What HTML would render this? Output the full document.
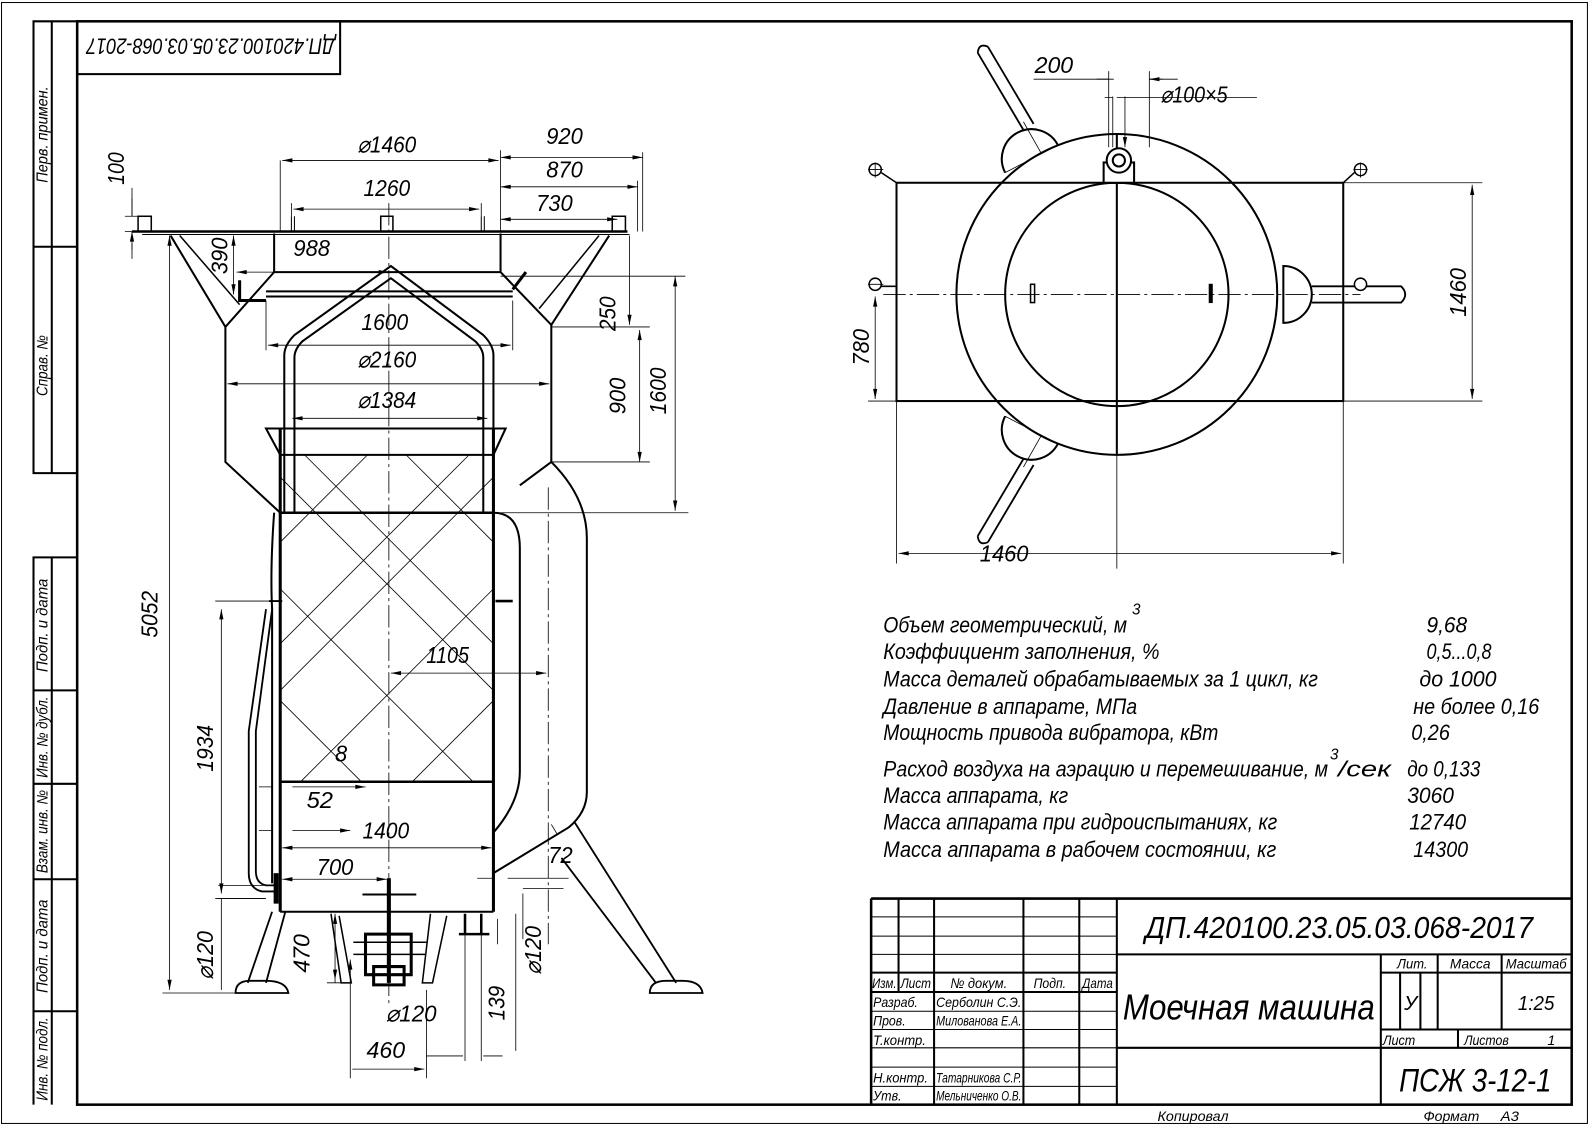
<!DOCTYPE html>
<html><head><meta charset="utf-8"><style>
html,body{margin:0;padding:0;background:#fff;}
svg{display:block;}
text{font-family:"Liberation Sans",sans-serif;font-style:italic;fill:#000;}
</style></head><body>
<svg width="1592" height="1127" viewBox="0 0 1568 1110" preserveAspectRatio="none" xmlns="http://www.w3.org/2000/svg">
<defs>
<marker id="a" viewBox="0 0 12 6" refX="12" refY="3" markerWidth="12" markerHeight="5" orient="auto-start-reverse" markerUnits="userSpaceOnUse"><path d="M0,0.5 L12,3 L0,5.5z" fill="#000"/></marker>
</defs>
<rect x="0" y="0" width="1568" height="1110" fill="#fff"/>
<rect x="1.5" y="2.5" width="1562" height="1104" fill="none" stroke="#000" stroke-width="1"/>
<rect x="76" y="21" width="1472" height="1067" fill="none" stroke="#000" stroke-width="2.5"/>
<g stroke="#000" stroke-width="2" fill="none">
<path d="M76,21 H33 V466 H76 M51,21 V466 M33,243 H76"/>
<path d="M76,549 H33 V1088 M51,549 V1088 M33,680 H76 M33,772 H76 M33,866 H76 M33,996 H76"/>
<rect x="76" y="21" width="259" height="52"/>
</g>
<g font-size="15">
<text transform="translate(47,180) rotate(-90)" textLength="95" lengthAdjust="spacingAndGlyphs">Перв. примен.</text>
<text transform="translate(47,390) rotate(-90)" textLength="60" lengthAdjust="spacingAndGlyphs">Справ. №</text>
<text transform="translate(47,662) rotate(-90)" textLength="92" lengthAdjust="spacingAndGlyphs">Подп. и дата</text>
<text transform="translate(47,766) rotate(-90)" textLength="80" lengthAdjust="spacingAndGlyphs">Инв. № дубл.</text>
<text transform="translate(47,860) rotate(-90)" textLength="82" lengthAdjust="spacingAndGlyphs">Взам. инв. №</text>
<text transform="translate(47,978) rotate(-90)" textLength="92" lengthAdjust="spacingAndGlyphs">Подп. и дата</text>
<text transform="translate(47,1084) rotate(-90)" textLength="82" lengthAdjust="spacingAndGlyphs">Инв. № подл.</text>
</g>
<text transform="translate(330,38) rotate(180)" font-size="22" textLength="245" lengthAdjust="spacingAndGlyphs">ДП.420100.23.05.03.068-2017</text>

<!-- LEFT VIEW -->
<g stroke="#000" fill="none">
<path d="M130,228 H618" stroke-width="2.5"/>
<path d="M140,231 H620" stroke-width="1"/>
<rect x="136" y="213" width="13" height="15" stroke-width="1.5"/>
<rect x="375" y="213" width="12" height="15" stroke-width="1.5"/>
<rect x="603" y="213" width="13" height="15" stroke-width="1.5"/>
<path d="M287,213 V228 M290,213 V228 M474,213 V228 M477,213 V228" stroke-width="1"/>
<path d="M168,232 L222,322 L270,268 H493 L543,320 L600,232" stroke-width="2"/>
<path d="M177,232 L236,300 M590,232 L531,304" stroke-width="1.5"/>
<path d="M270,268 V230 M493,268 V230" stroke-width="2"/>
<path d="M222,322 V455 L276,505 M543,320 V455 L512,478" stroke-width="2"/>
<path d="M262,287 H505 M262,292 H505" stroke-width="2"/>
<path d="M236,276 V296 H262 M505,285 L518,268" stroke-width="3"/>
<path d="M280,505 V350 Q280,340 290,330 L385,262 L476,330 Q486,340 486,350 V505" stroke-width="2"/>
<path d="M290,505 V352 Q290,344 298,336 L385,274 L468,336 Q476,344 476,352 V505" stroke-width="2"/>
<path d="M262,422 H498 L486,448 H276 Z" stroke-width="2"/>
<path d="M276,422 V898 M486,422 V898" stroke-width="3"/>
<path d="M276,505 H486 M276,770 H486" stroke-width="2.5"/>
<path d="M276,898 H486" stroke-width="2"/>
<g stroke-width="0.8">
<path d="M276,470 L486,680 M276,580 L466,770 M276,690 L356,770 M300,448 L486,634 M400,448 L486,534 M486,470 L276,680 M486,580 L296,770 M486,690 L406,770 M462,448 L276,634 M362,448 L276,534"/>
</g>
<path d="M270,505 Q266,560 268,600 V870 M276,770 V890" stroke-width="2"/>
<path d="M265,592 H278 M262,600 L245,720 V860 Q245,875 258,878 H270 M268,600 L252,720 V858 Q252,870 262,872 H270" stroke-width="1.8"/>
<path d="M272,860 V890" stroke-width="5"/>
<path d="M486,505 Q512,505 512,540 V760 Q512,790 486,820" stroke-width="2"/>
<path d="M543,455 Q578,490 578,530 V780 Q578,800 560,815 L486,860" stroke-width="2"/>
<path d="M488,592 H505 M486,865 V890" stroke-width="2.5"/>
<path d="M268,898 L244,968 M281,898 L262,968" stroke-width="1.8"/>
<path d="M232,978 H284 Q282,966 262,966 H246 Q232,966 232,978 Z" stroke-width="1.8"/>
<path d="M566,810 L666,968 M553,845 L646,968" stroke-width="1.8"/>
<path d="M640,978 H692 Q690,966 672,966 H656 Q640,966 640,978 Z" stroke-width="1.8"/>
<path d="M326,900 L336,968 H346 L334,902 M424,900 L416,968 H426 L440,902" stroke-width="1.5"/>
<path d="M383,865 V968" stroke-width="4"/>
<path d="M357,881 H410" stroke-width="2"/>
<path d="M360,920 H405 V960 H360 Z M368,952 H398 V970 H368 Z" stroke-width="3"/>
<path d="M348,928 H420 M348,940 H420" stroke-width="1.5"/>
<path d="M458,900 V920 H474 V900 M452,920 H482" stroke-width="2.5"/>
</g>
<g stroke="#000" stroke-width="0.8" stroke-dasharray="22,4,3,4" fill="none">
<path d="M383,200 V990"/>
<path d="M540,480 V930"/>
</g>
<g stroke="#000" stroke-width="0.8" fill="none">
<path d="M276,158 V228 M493,148 V228 M633,150 V228 M628,178 V228 M287,200 V213 M474,200 V213"/>
<path d="M278,158 H491" marker-start="url(#a)" marker-end="url(#a)"/>
<path d="M493,155 H633" marker-start="url(#a)" marker-end="url(#a)"/>
<path d="M493,184 H628" marker-start="url(#a)" marker-end="url(#a)"/>
<path d="M493,216 H608" marker-start="url(#a)" marker-end="url(#a)"/>
<path d="M289,206 H472" marker-start="url(#a)" marker-end="url(#a)"/>
<path d="M130,185 V213 M130,240 V255 M123,213 H136 M123,228 H136" />
<path d="M130,195 V213 M130,246 V228" marker-end="url(#a)"/>
<path d="M233,268 H383" marker-start="url(#a)" marker-end="url(#a)"/>
<path d="M230,232 V290" marker-start="url(#a)" marker-end="url(#a)"/>
<path d="M167,232 V975" marker-start="url(#a)" marker-end="url(#a)"/>
<path d="M160,978 H232"/>
<path d="M262,296 V345 M505,296 V345"/>
<path d="M264,340 H503" marker-start="url(#a)" marker-end="url(#a)"/>
<path d="M224,378 H541" marker-start="url(#a)" marker-end="url(#a)"/>
<path d="M288,412 H480" marker-start="url(#a)" marker-end="url(#a)"/>
<path d="M493,272 H675 M543,322 H640 M543,455 H640 M486,505 H678"/>
<path d="M620,232 V320" marker-end="url(#a)"/>
<path d="M630,325 V455" marker-start="url(#a)" marker-end="url(#a)"/>
<path d="M665,272 V503" marker-start="url(#a)" marker-end="url(#a)"/>
<path d="M218,600 V880" marker-start="url(#a)" marker-end="url(#a)"/>
<path d="M212,592 H265 M212,885 H262"/>
<path d="M385,663 H538" marker-start="url(#a)" marker-end="url(#a)"/>
<path d="M255,775 H268 M288,775 H360" marker-end="url(#a)"/>
<path d="M255,818 H268 M288,818 H345" marker-end="url(#a)"/>
<path d="M278,835 H484" marker-start="url(#a)" marker-end="url(#a)"/>
<path d="M278,866 H381" marker-start="url(#a)" marker-end="url(#a)"/>
<path d="M470,865 H486 M500,865 H560 M515,875 H555 M543,812 L549,822"/>
<path d="M218,885 V975 M215,885 H260 M215,872 H260"/>
<path d="M330,900 V968 M322,968 H345 M330,902 V965" marker-start="url(#a)" marker-end="url(#a)"/>
<path d="M345,945 V1062 M420,975 V1062 M347,1053 H418" marker-start="url(#a)" marker-end="url(#a)"/>
<path d="M458,920 V1045 M474,920 V1045 M420,1040 H456 M476,1040 H495 M508,900 V1035 M490,905 V930 M515,880 V925"/>
</g>
<g font-size="23">
<text x="352" y="150" textLength="58" lengthAdjust="spacingAndGlyphs">⌀1460</text>
<text x="538" y="142" textLength="36" lengthAdjust="spacingAndGlyphs">920</text>
<text x="538" y="175" textLength="36" lengthAdjust="spacingAndGlyphs">870</text>
<text x="528" y="208" textLength="36" lengthAdjust="spacingAndGlyphs">730</text>
<text x="358" y="193" textLength="46" lengthAdjust="spacingAndGlyphs">1260</text>
<text x="289" y="252" textLength="36" lengthAdjust="spacingAndGlyphs">988</text>
<text x="356" y="325" textLength="46" lengthAdjust="spacingAndGlyphs">1600</text>
<text x="352" y="362" textLength="58" lengthAdjust="spacingAndGlyphs">⌀2160</text>
<text x="352" y="402" textLength="58" lengthAdjust="spacingAndGlyphs">⌀1384</text>
<text x="420" y="653" textLength="42" lengthAdjust="spacingAndGlyphs">1105</text>
<text x="330" y="750" textLength="12" lengthAdjust="spacingAndGlyphs">8</text>
<text x="302" y="796" textLength="26" lengthAdjust="spacingAndGlyphs">52</text>
<text x="357" y="826" textLength="46" lengthAdjust="spacingAndGlyphs">1400</text>
<text x="312" y="862" textLength="36" lengthAdjust="spacingAndGlyphs">700</text>
<text x="540" y="850" textLength="24" lengthAdjust="spacingAndGlyphs">72</text>
<text x="380" y="1006" textLength="50" lengthAdjust="spacingAndGlyphs">⌀120</text>
<text x="361" y="1042" textLength="38" lengthAdjust="spacingAndGlyphs">460</text>
<text transform="translate(122,182) rotate(-90)" textLength="32" lengthAdjust="spacingAndGlyphs">100</text>
<text transform="translate(224,270) rotate(-90)" textLength="36" lengthAdjust="spacingAndGlyphs">390</text>
<text transform="translate(606,326) rotate(-90)" textLength="34" lengthAdjust="spacingAndGlyphs">250</text>
<text transform="translate(616,408) rotate(-90)" textLength="36" lengthAdjust="spacingAndGlyphs">900</text>
<text transform="translate(656,408) rotate(-90)" textLength="46" lengthAdjust="spacingAndGlyphs">1600</text>
<text transform="translate(155,628) rotate(-90)" textLength="46" lengthAdjust="spacingAndGlyphs">5052</text>
<text transform="translate(210,760) rotate(-90)" textLength="46" lengthAdjust="spacingAndGlyphs">1934</text>
<text transform="translate(210,965) rotate(-90)" textLength="48" lengthAdjust="spacingAndGlyphs">⌀120</text>
<text transform="translate(305,958) rotate(-90)" textLength="38" lengthAdjust="spacingAndGlyphs">470</text>
<text transform="translate(533,960) rotate(-90)" textLength="48" lengthAdjust="spacingAndGlyphs">⌀120</text>
<text transform="translate(497,1005) rotate(-90)" textLength="34" lengthAdjust="spacingAndGlyphs">139</text>
</g>

<!-- TOP VIEW -->
<g stroke="#000" fill="none" stroke-width="2">
<rect x="883" y="180" width="440" height="215"/>
<circle cx="1100" cy="290" r="158"/>
<circle cx="1100" cy="290" r="110"/>
<path d="M1100,132 V448"/>
<rect x="1087" y="160" width="30" height="20" fill="#fff"/>
<circle cx="1102" cy="158" r="12" fill="#fff"/>
<circle cx="1102" cy="158" r="6"/>
<path d="M1042,143 A28,28 0 0 0 990,170" stroke-width="2"/>
<path d="M1008,128 L963,52 M1018,122 L973,46 M963,52 Q964,42 973,46" stroke-width="1.8"/>
<path d="M1042,437 A28,28 0 0 1 990,410" stroke-width="2"/>
<path d="M1008,452 L963,528 M1018,458 L973,534 M963,528 Q964,538 973,534" stroke-width="1.8"/>
<path d="M1264,262 A28,28 0 0 1 1264,318 Z" stroke-width="2"/>
<path d="M1292,282 H1380 Q1388,290 1380,298 H1292" stroke-width="1.8"/>
<rect x="1015" y="280" width="4" height="18" stroke-width="1.5"/>
<rect x="1191" y="280" width="3" height="18" fill="#000" stroke-width="1"/>
</g>
<g stroke="#000" stroke-width="0.8" fill="none">
<path d="M990,170 L1042,143 M990,410 L1042,437 M1025,150 L1008,120 M1025,430 L1008,460"/>
</g>
<g stroke="#000" fill="#fff" stroke-width="1.5">
<circle cx="862" cy="167" r="6"/><circle cx="862" cy="280" r="6"/>
<circle cx="1340" cy="167" r="6"/><circle cx="1340" cy="280" r="6"/>
<path d="M868,170 L883,180 M1334,170 L1323,180 M868,282 H883" fill="none"/>
</g>
<g stroke="#000" stroke-width="0.8" fill="none">
<path d="M870,290 H1340" stroke-dasharray="22,4,3,4"/>
<path d="M855,167 H870 M862,160 V175 M855,280 H870 M1333,167 H1347 M1340,160 V175"/>
<path d="M1323,180 H1460 M1323,395 H1460 M855,395 H883 M883,395 V555 M1323,395 V555 M1100,448 V560"/>
<path d="M1450,182 V393" marker-start="url(#a)" marker-end="url(#a)"/>
<path d="M862,292 V393" marker-start="url(#a)" marker-end="url(#a)"/>
<path d="M885,545 H1321" marker-start="url(#a)" marker-end="url(#a)"/>
<path d="M1018,78 H1097 M1132,78 H1160 M1092,70 V145 M1132,70 V145" />
<path d="M1080,78 H1092 M1145,78 H1132" marker-end="url(#a)"/>
<path d="M1088,96 H1096 M1108,96 H1100 M1108,96 H1238 M1096,95 V145 M1108,95 V145" marker-end="url(#a)"/>
</g>
<g font-size="23">
<text x="1019" y="72" textLength="38" lengthAdjust="spacingAndGlyphs">200</text>
<text x="1143" y="101" textLength="66" lengthAdjust="spacingAndGlyphs">⌀100×5</text>
<text x="965" y="553" textLength="48" lengthAdjust="spacingAndGlyphs">1460</text>
<text transform="translate(1444,312) rotate(-90)" textLength="48" lengthAdjust="spacingAndGlyphs">1460</text>
<text transform="translate(856,360) rotate(-90)" textLength="36" lengthAdjust="spacingAndGlyphs">780</text>
</g>

<!-- SPEC TEXT -->
<g font-size="22">
<text x="870" y="623" textLength="240" lengthAdjust="spacingAndGlyphs">Объем геометрический, м</text>
<text x="1115" y="605" font-size="15">3</text>
<text x="870" y="649" textLength="272" lengthAdjust="spacingAndGlyphs">Коэффициент заполнения, %</text>
<text x="870" y="676" textLength="428" lengthAdjust="spacingAndGlyphs">Масса деталей обрабатываемых за 1 цикл, кг</text>
<text x="870" y="703" textLength="250" lengthAdjust="spacingAndGlyphs">Давление в аппарате, МПа</text>
<text x="870" y="729" textLength="330" lengthAdjust="spacingAndGlyphs">Мощность привода вибратора, кВт</text>
<text x="870" y="765" textLength="438" lengthAdjust="spacingAndGlyphs">Расход воздуха на аэрацию и перемешивание, м</text>
<text x="1310" y="748" font-size="15">3</text>
<text x="1318" y="765" textLength="52" lengthAdjust="spacingAndGlyphs">/сек</text>
<text x="870" y="791" textLength="182" lengthAdjust="spacingAndGlyphs">Масса аппарата, кг</text>
<text x="870" y="817" textLength="388" lengthAdjust="spacingAndGlyphs">Масса аппарата при гидроиспытаниях, кг</text>
<text x="870" y="844" textLength="387" lengthAdjust="spacingAndGlyphs">Масса аппарата в рабочем состоянии, кг</text>
<text x="1405" y="623" textLength="40" lengthAdjust="spacingAndGlyphs">9,68</text>
<text x="1405" y="649" textLength="64" lengthAdjust="spacingAndGlyphs">0,5...0,8</text>
<text x="1398" y="676" textLength="76" lengthAdjust="spacingAndGlyphs">до 1000</text>
<text x="1392" y="703" textLength="124" lengthAdjust="spacingAndGlyphs">не более 0,16</text>
<text x="1390" y="729" textLength="38" lengthAdjust="spacingAndGlyphs">0,26</text>
<text x="1386" y="765" textLength="72" lengthAdjust="spacingAndGlyphs">до 0,133</text>
<text x="1386" y="791" textLength="46" lengthAdjust="spacingAndGlyphs">3060</text>
<text x="1388" y="817" textLength="56" lengthAdjust="spacingAndGlyphs">12740</text>
<text x="1392" y="844" textLength="54" lengthAdjust="spacingAndGlyphs">14300</text>
</g>

<!-- TITLE BLOCK -->
<g stroke="#000" fill="none">
<path d="M858,885 H1548 M858,885 V1088" stroke-width="2.5"/>
<path d="M920,885 V1088 M1008,885 V1088 M1063,885 V1088 M1100,885 V1088" stroke-width="2"/>
<path d="M885,885 V977" stroke-width="2"/>
<path d="M858,903 H1100 M858,922 H1100 M858,940 H1100 M858,996 H1100 M858,1014 H1100 M858,1032 H1100 M858,1051 H1100 M858,1070 H1100" stroke-width="1"/>
<path d="M858,958 H1100 M858,977 H1100" stroke-width="2"/>
<path d="M1100,940 H1548 M1100,1032 H1548 M1360,958 H1548 M1360,1014 H1548" stroke-width="2"/>
<path d="M1360,940 V1088 M1379,958 V1014 M1399,958 V1014 M1416,940 V1014 M1479,940 V1014 M1436,1014 V1032" stroke-width="2"/>
</g>
<g font-size="14">
<text x="859" y="973" textLength="24" lengthAdjust="spacingAndGlyphs">Изм.</text>
<text x="887" y="973" textLength="30" lengthAdjust="spacingAndGlyphs">Лист</text>
<text x="936" y="973" textLength="56" lengthAdjust="spacingAndGlyphs">№ докум.</text>
<text x="1018" y="973" textLength="32" lengthAdjust="spacingAndGlyphs">Подп.</text>
<text x="1066" y="973" textLength="30" lengthAdjust="spacingAndGlyphs">Дата</text>
<text x="860" y="992" textLength="44" lengthAdjust="spacingAndGlyphs">Разраб.</text>
<text x="922" y="992" textLength="84" lengthAdjust="spacingAndGlyphs">Серболин С.Э.</text>
<text x="860" y="1010" textLength="32" lengthAdjust="spacingAndGlyphs">Пров.</text>
<text x="922" y="1010" textLength="84" lengthAdjust="spacingAndGlyphs">Милованова Е.А.</text>
<text x="860" y="1029" textLength="52" lengthAdjust="spacingAndGlyphs">Т.контр.</text>
<text x="860" y="1066" textLength="54" lengthAdjust="spacingAndGlyphs">Н.контр.</text>
<text x="922" y="1066" textLength="84" lengthAdjust="spacingAndGlyphs">Татарникова С.Р.</text>
<text x="860" y="1084" textLength="28" lengthAdjust="spacingAndGlyphs">Утв.</text>
<text x="922" y="1084" textLength="84" lengthAdjust="spacingAndGlyphs">Мельниченко О.В.</text>
<text x="1376" y="954" textLength="30" lengthAdjust="spacingAndGlyphs">Лит.</text>
<text x="1428" y="954" textLength="40" lengthAdjust="spacingAndGlyphs">Масса</text>
<text x="1483" y="954" textLength="60" lengthAdjust="spacingAndGlyphs">Масштаб</text>
<text x="1362" y="1029" textLength="32" lengthAdjust="spacingAndGlyphs">Лист</text>
<text x="1442" y="1029" textLength="44" lengthAdjust="spacingAndGlyphs">Листов</text>
<text x="1524" y="1029">1</text>
<text x="1140" y="1104" textLength="70" lengthAdjust="spacingAndGlyphs">Копировал</text>
<text x="1402" y="1104" textLength="55" lengthAdjust="spacingAndGlyphs">Формат</text>
<text x="1478" y="1104" textLength="18" lengthAdjust="spacingAndGlyphs">А3</text>
</g>
<text x="1128" y="924" font-size="30" textLength="382" lengthAdjust="spacingAndGlyphs">ДП.420100.23.05.03.068-2017</text>
<text x="1106" y="1004" font-size="36" textLength="248" lengthAdjust="spacingAndGlyphs">Моечная машина</text>
<text x="1383" y="995" font-size="20">У</text>
<text x="1495" y="995" font-size="20" textLength="36" lengthAdjust="spacingAndGlyphs">1:25</text>
<text x="1378" y="1075" font-size="32" textLength="150" lengthAdjust="spacingAndGlyphs">ПСЖ 3-12-1</text>
</svg>
</body></html>
